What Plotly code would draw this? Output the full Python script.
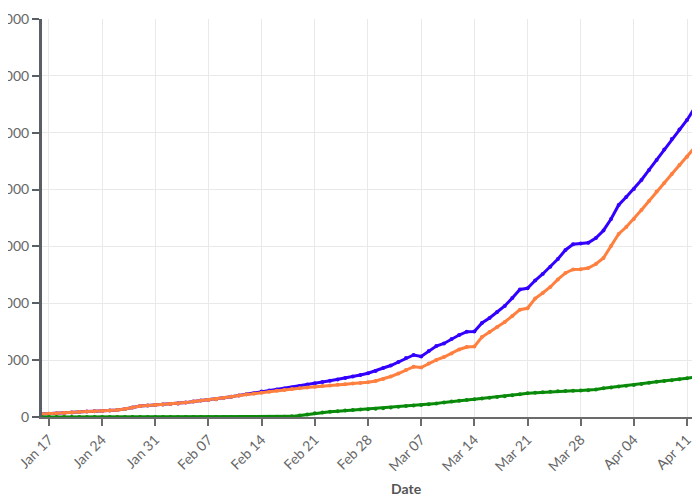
import pandas as pd
import plotly.graph_objects as go

start_date = "2021-01-16"

blue_vals = [
    5300, 5800, 6300, 7000, 7900, 8800, 9500, 10200, 10600, 11400,
    12300, 14100, 16900, 19300, 20200, 21100, 22000, 22900, 23900, 25300,
    27300, 29000, 29900, 31300, 33400, 35700, 38000, 40100, 41900, 44900,
    46600, 48500, 50300, 52100, 54500, 57000, 59300, 61600, 63900, 66100,
    68600, 71400, 73900, 76900, 80900, 86200, 90600, 96700, 103800, 109100,
    106400, 116100, 124900, 129300, 137200, 144200, 150000, 150400, 165300, 174100,
    184700, 195200, 209300, 224300, 226400, 240100, 251500, 264400, 277900, 293800,
    303800, 305200, 306600, 314900, 328100, 348300, 372900, 387000, 401100, 416900,
    434500, 452100, 470500, 489000, 505700, 522400, 543500, 562900, 582200,
]

orange_vals = [
    5300, 5800, 6300, 7000, 7900, 8800, 9500, 10200, 10600, 11400,
    12300, 14100, 16900, 19300, 20200, 21100, 22000, 22900, 23900, 25300,
    27300, 29000, 29900, 31300, 33400, 35700, 37800, 39800, 41200, 42600,
    44300, 46100, 47500, 49100, 50500, 51900, 53300, 54500, 55600, 56600,
    57700, 58800, 59800, 61000, 63300, 66800, 71200, 76500, 82700, 88500,
    87100, 94100, 100300, 105500, 111700, 118700, 123100, 124000, 140700, 149500,
    158300, 167100, 177700, 188700, 191200, 208400, 218100, 228700, 241900, 253300,
    259500, 259800, 262100, 269100, 279700, 300800, 321900, 334200, 348300, 364100,
    379900, 396700, 411600, 427400, 443300, 457900, 474900, 490800, 504800,
]

green_vals = [
    0, 0, 0, 0, 0, 0, 0, 0, 0, 0,
    0, 0, 0, 0, 0, 0, 0, 0, 0, 0,
    0, 0, 0, 0, 100, 100, 100, 200, 200, 200,
    300, 400, 500, 1100, 2500, 4400, 6500, 7900, 9100, 10200,
    11300, 12300, 13000, 13500, 14400, 15500, 16700, 17900, 19200, 20200,
    21100, 22300, 23700, 25700, 27400, 28700, 29900, 31100, 32400, 33800,
    35200, 36600, 38300, 40100, 41700, 42600, 43400, 44500, 45200, 45700,
    46300, 46600, 47100, 48500, 50500, 51900, 53500, 54900, 56300, 58000,
    60200, 62100, 63300, 64700, 66300, 68100, 70400, 73000, 75600,
]

y_ticks = [0, 100000, 200000, 300000, 400000, 500000, 600000, 700000]

dates = pd.date_range(start_date, periods=len(blue_vals), freq="D")

fig = go.Figure()
series = [
    ("Blue", blue_vals, "#3300ff"),
    ("Orange", orange_vals, "#ff7f3f"),
    ("Green", green_vals, "#0a8a0a"),
]
for name, vals, col in series:
    fig.add_trace(go.Scatter(
        x=dates, y=vals, name=name, mode="lines+markers",
        line=dict(color=col, width=3),
        marker=dict(color=col, size=4),
    ))

font_family = "Lato, Open Sans, sans-serif"
fig.update_layout(
    width=700, height=500,
    margin=dict(l=34, r=8, t=11, b=91, autoexpand=False),
    plot_bgcolor="white", paper_bgcolor="white",
    showlegend=False,
    font=dict(family=font_family, size=14, color="#666666"),
)
fig.update_xaxes(
    type="date",
    range=["2021-01-16 02:00", "2021-04-12 17:00"],
    tick0="2021-01-17", dtick=7 * 86400000,
    tickformat="%b %d", tickangle=-45,
    showgrid=True, gridcolor="#e9e9e9", gridwidth=1,
    showline=True, linecolor="#6b6b6b", linewidth=2,
    ticks="outside", ticklen=7, tickcolor="#6b6b6b", tickwidth=2,
    zeroline=False, automargin=False,
    tickfont=dict(size=14, color="#666666"),
)
fig.update_yaxes(
    range=[0, 700000],
    tickvals=y_ticks, tickformat=",d",
    showgrid=True, gridcolor="#e9e9e9", gridwidth=1,
    showline=True, linecolor="#5a5f66", linewidth=3,
    ticks="outside", ticklen=7, tickcolor="#5a5f66", tickwidth=2,
    zeroline=False, automargin=False,
    tickfont=dict(size=14, color="#666666"),
)
fig.add_annotation(
    text="<b>Date</b>", xref="paper", yref="paper",
    x=(398 - 34) / 658, y=(409 - 480) / 398,
    xanchor="center", yanchor="middle", showarrow=False,
    font=dict(family=font_family, size=14, color="#555555"),
)

fig.write_html("out.html")
